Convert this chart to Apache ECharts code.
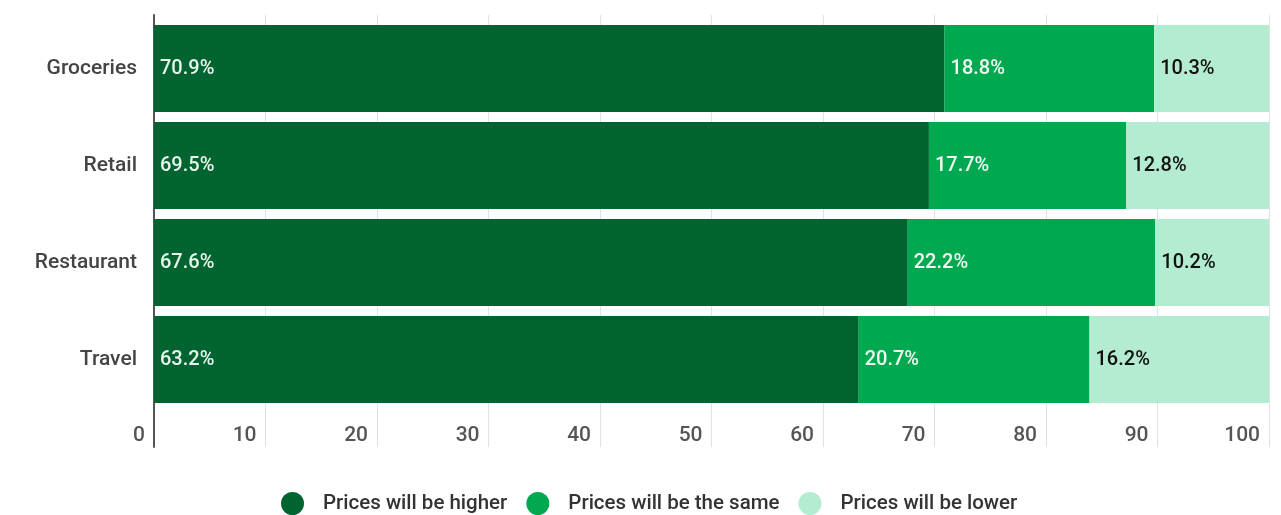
<!DOCTYPE html>
<html>
<head>
<meta charset="utf-8">
<script src="https://cdn.jsdelivr.net/npm/echarts@6/dist/echarts.min.js"></script>
<style>html,body{margin:0;padding:0;background:#fff}#c{width:1281px;height:515px}</style>
</head>
<body>
<div id="c"></div>
<script>
const categories = ['Groceries', 'Retail', 'Restaurant', 'Travel'];
const higher = [70.9, 69.5, 67.6, 63.2];
const same = [18.8, 17.7, 22.2, 20.7];
const lower = [10.3, 12.8, 10.2, 16.2];
const seriesNames = ['Prices will be higher', 'Prices will be the same', 'Prices will be lower'];
const xTicks = [0, 10, 20, 30, 40, 50, 60, 70, 80, 90, 100];

const colors = ['#006430', '#00a84f', '#b4ecd1'];
const labelColors = ['#e8f5ec', '#eefaf2', '#111111'];
const font = 'Roboto';

const chart = echarts.init(document.getElementById('c'), null, {renderer: 'canvas'});
const dataSets = [higher, same, lower];

chart.setOption({
  backgroundColor: '#ffffff',
  animation: false,
  textStyle: {fontFamily: font},
  legend: {
    left: 276, top: 487,
    icon: 'circle', itemWidth: 23, itemHeight: 23, itemGap: 19,
    textStyle: {fontFamily: font, fontSize: 20.5, fontWeight: 500, color: '#333', padding: [0, 0, 0, 14]},
    data: seriesNames
  },
  grid: [
    {left: 154, right: 12, top: 20, height: 388},
    {left: 154, right: 12, top: 15, bottom: 68}
  ],
  xAxis: [
    {gridIndex: 0, type: 'value', min: 0, max: 100, show: false},
    {gridIndex: 1, type: 'value', min: xTicks[0], max: xTicks[xTicks.length - 1], interval: 10,
      axisLine: {show: false}, axisTick: {show: false},
      splitLine: {show: true, lineStyle: {color: '#e2e2e2', width: 1}},
      axisLabel: {inside: true, margin: 1, align: 'right', padding: [0, 9, 0, 0],
        fontFamily: font, fontSize: 21, fontWeight: 500, color: '#555',
        formatter: v => xTicks.includes(v) ? String(v) : ''}
    }
  ],
  yAxis: [
    {gridIndex: 0, type: 'category', inverse: true, data: categories,
      axisLine: {show: false}, axisTick: {show: false},
      axisLabel: {margin: 17, fontFamily: font, fontSize: 21, fontWeight: 500, color: '#444'}},
    {gridIndex: 1, type: 'value', min: 0, max: 1,
      axisLine: {show: true, lineStyle: {color: '#555', width: 2}},
      axisTick: {show: false}, axisLabel: {show: false}, splitLine: {show: false}}
  ],
  series: dataSets.map((d, i) => ({
    name: seriesNames[i], type: 'bar', stack: 'total',
    xAxisIndex: 0, yAxisIndex: 0,
    barCategoryGap: '10.3%',
    itemStyle: {color: colors[i]},
    label: {show: true, position: 'insideLeft', distance: 6,
      fontFamily: font, fontSize: 20, fontWeight: 500, color: labelColors[i],
      formatter: p => p.value.toFixed(1) + '%'},
    data: d
  }))
});
</script>
</body>
</html>
